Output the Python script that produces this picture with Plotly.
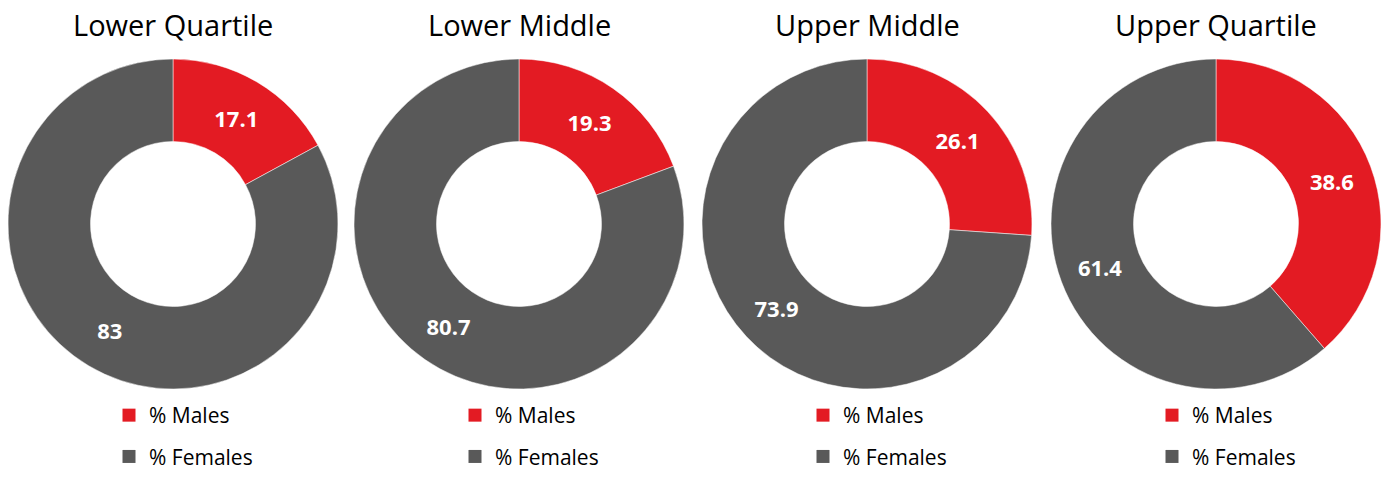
import plotly.graph_objects as go

titles = ["Lower Quartile", "Lower Middle", "Upper Middle", "Upper Quartile"]
labels = ["% Males", "% Females"]
males = [17.1, 19.3, 26.1, 38.6]
females = [83, 80.7, 73.9, 61.4]
colors = ["#E31B23", "#595959"]

W, H = 1394, 481
centers_x = [173, 519, 867, 1216]
cy = 224
R = 165

fig = go.Figure()
for i, t in enumerate(titles):
    cx = centers_x[i]
    fig.add_trace(go.Pie(
        labels=labels,
        values=[males[i], females[i]],
        sort=False,
        direction="clockwise",
        rotation=0,
        hole=0.5,
        marker=dict(colors=colors, line=dict(color="#ffffff", width=0.5)),
        texttemplate="%{value}",
        textposition="inside",
        insidetextorientation="horizontal",
        textfont=dict(family="Open Sans", size=22, color="white", weight="bold"),
        hoverinfo="skip",
        showlegend=False,
        domain=dict(x=[(cx - R) / W, (cx + R) / W], y=[1 - (cy + R) / H, 1 - (cy - R) / H]),
    ))
    fig.add_annotation(
        text=t, x=cx / W, y=1 - 25 / H, xref="paper", yref="paper",
        showarrow=False, xanchor="center", yanchor="middle",
        font=dict(family="Open Sans", size=29, color="#000000"),
    )
    lname = "legend" if i == 0 else f"legend{i+1}"
    for j, lab in enumerate(labels):
        fig.add_trace(go.Scatter(
            x=[None], y=[None], mode="markers", name=lab,
            marker=dict(symbol="square", size=13, color=colors[j]),
            legend=lname, legendgroup=f"{i}-{j}", showlegend=True,
            hoverinfo="skip",
        ))

layout_legends = {}
for i in range(4):
    lname = "legend" if i == 0 else f"legend{i+1}"
    layout_legends[lname] = dict(
        x=(centers_x[i] - 64) / W, y=1 - 395 / H, xanchor="left", yanchor="top",
        font=dict(family="Open Sans", size=21, color="#000000"),
        tracegroupgap=11, bgcolor="rgba(0,0,0,0)", itemclick=False, itemdoubleclick=False,
    )

fig.update_layout(
    width=W, height=H,
    margin=dict(l=0, r=0, t=0, b=0),
    paper_bgcolor="white", plot_bgcolor="white",
    xaxis=dict(visible=False), yaxis=dict(visible=False),
    **layout_legends,
)
fig.write_html("out.html")
